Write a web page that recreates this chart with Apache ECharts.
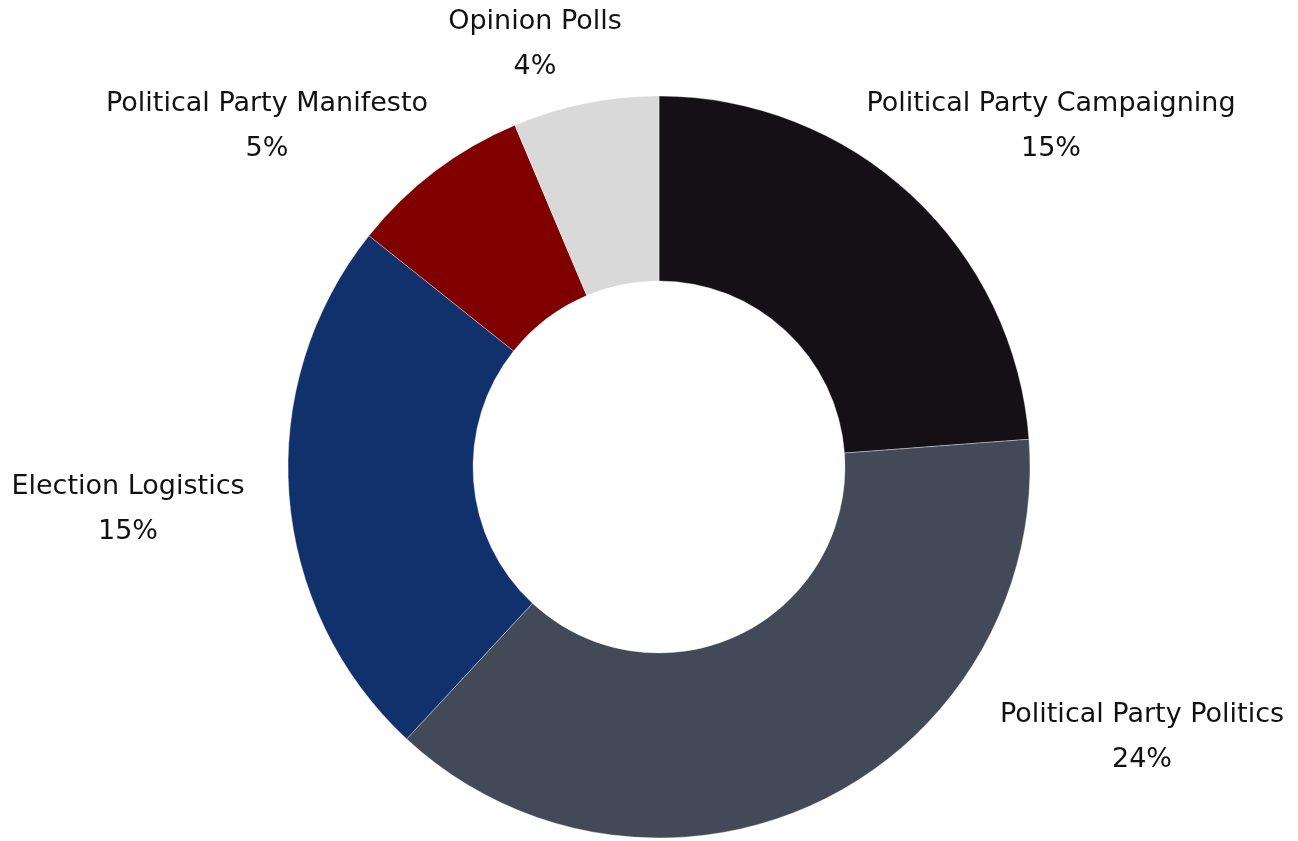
<!DOCTYPE html>
<html>
<head>
<meta charset="utf-8">
<script src="https://cdn.jsdelivr.net/npm/echarts@6/dist/echarts.min.js"></script>
<style>
html,body{margin:0;padding:0;background:#fff;}
#chart{width:1298px;height:841px;}
</style>
</head>
<body>
<div id="chart"></div>
<script>
// Categories and values (percent values as printed on the chart)
const categories = ['Political Party Campaigning', 'Political Party Politics', 'Election Logistics', 'Political Party Manifesto', 'Opinion Polls'];
const values = [15, 24, 15, 5, 4];
const colors = ['#141015', '#434a57', '#10316c', '#800000', '#d9d9d9'];

// label anchor points (layout only)
const labelSpots = [[1051, 126], [1142, 737], [128, 509], [267, 126], [535, 44]];

const chart = echarts.init(document.getElementById('chart'), null, {renderer: 'canvas'});
chart.setOption({
  backgroundColor: '#ffffff',
  animation: false,
  series: [{
    type: 'pie',
    center: [659, 467],
    radius: [186, 371],
    startAngle: 90,
    clockwise: true,
    avoidLabelOverlap: false,
    data: categories.map((c, i) => ({
      name: c,
      value: values[i],
      itemStyle: {color: colors[i]}
    })),
    itemStyle: {borderColor: 'rgba(255,255,255,0.6)', borderWidth: 0.6},
    label: {
      show: true,
      position: 'outside',
      formatter: p => p.name + '\n' + p.value + '%',
      fontFamily: '"DejaVu Sans", sans-serif',
      fontSize: 27,
      lineHeight: 45,
      color: '#111111',
      align: 'center'
    },
    labelLine: {show: false},
    labelLayout: function (params) {
      const s = labelSpots[params.dataIndex];
      return {x: s[0], y: s[1], align: 'center', verticalAlign: 'middle'};
    },
    emphasis: {disabled: true}
  }]
});
</script>
</body>
</html>
